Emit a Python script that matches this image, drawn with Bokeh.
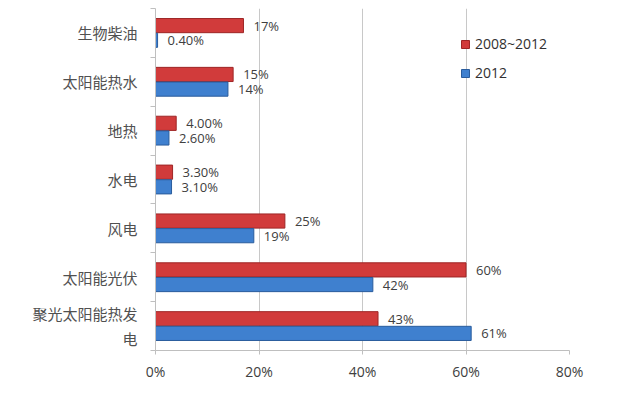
from bokeh.plotting import figure
from bokeh.models import ColumnDataSource, Range1d, FixedTicker, Legend, LegendItem
from bokeh.core.properties import value
from bokeh.embed import file_html
from bokeh.resources import INLINE

categories = ["生物柴油", "太阳能热水", "地热", "水电", "风电", "太阳能光伏", "聚光太阳能热发电"]
axis_labels = ["生物柴油", "太阳能热水", "地热", "水电", "风电", "太阳能光伏", "聚光太阳能热发\n电"]
growth_2008_2012 = [17, 15, 4.0, 3.3, 25, 60, 43]
growth_2012 = [0.4, 14, 2.6, 3.1, 19, 42, 61]
labels_2008_2012 = ["17%", "15%", "4.00%", "3.30%", "25%", "60%", "43%"]
labels_2012 = ["0.40%", "14%", "2.60%", "3.10%", "19%", "42%", "61%"]
x_ticks = [0, 20, 40, 60, 80]
x_tick_labels = ["0%", "20%", "40%", "60%", "80%"]

n = len(categories)
pos = list(range(n))
red_y = [p_ - 0.15 for p_ in pos]
blue_y = [p_ + 0.15 for p_ in pos]

src_red = ColumnDataSource(dict(y=red_y, x=growth_2008_2012, lab=labels_2008_2012))
src_blue = ColumnDataSource(dict(y=blue_y, x=growth_2012, lab=labels_2012))

p = figure(width=632, height=387, output_backend="svg", toolbar_location=None,
           x_range=Range1d(0, 80), y_range=Range1d(n - 0.5, -0.5),
           min_border_left=155, min_border_right=63, min_border_top=8, min_border_bottom=37)
p.outline_line_color = None
p.background_fill_color = "white"

red_r = p.hbar(y="y", right="x", left=0, height=0.29, source=src_red,
               fill_color="#D13B3B", line_color="#9E2626", line_width=1)
blue_r = p.hbar(y="y", right="x", left=0, height=0.29, source=src_blue,
                fill_color="#3F80CF", line_color="#2A5C9C", line_width=1)

p.text(x="x", y="y", text="lab", source=src_red, x_offset=10, text_baseline="middle",
       text_font=value("Open Sans"), text_font_size="13px", text_color="#404040")
p.text(x="x", y="y", text="lab", source=src_blue, x_offset=10, text_baseline="middle",
       text_font=value("Open Sans"), text_font_size="13px", text_color="#404040")

# axes
p.xaxis.ticker = FixedTicker(ticks=x_ticks)
p.xaxis.major_label_overrides = {t: l for t, l in zip(x_ticks, x_tick_labels)}
p.xaxis.major_label_text_font = "Open Sans"
p.xaxis.major_label_text_font_size = "14px"
p.xaxis.major_label_text_color = "#404040"
p.xaxis.axis_line_color = "#BFBFBF"
p.xaxis.major_tick_line_color = "#BFBFBF"
p.xaxis.major_tick_out = 4
p.xaxis.major_tick_in = 0
p.xaxis.minor_tick_line_color = None
p.xaxis.major_label_standoff = 7

p.yaxis.ticker = FixedTicker(ticks=pos, minor_ticks=[i - 0.5 for i in range(n + 1)])
p.yaxis.major_label_overrides = {i: l for i, l in enumerate(axis_labels)}
p.yaxis.major_label_text_font = "Noto Sans CJK SC"
p.yaxis.major_label_text_font_size = "15px"
p.yaxis.major_label_text_color = "#505050"
p.yaxis.axis_line_color = "#BFBFBF"
p.yaxis.major_tick_line_color = None
p.yaxis.major_tick_out = 0
p.yaxis.major_tick_in = 0
p.yaxis.minor_tick_line_color = "#BFBFBF"
p.yaxis.minor_tick_out = 5
p.yaxis.minor_tick_in = 0
p.yaxis.major_label_standoff = 13

p.xgrid.grid_line_color = "#C8C8C8"
p.xgrid.ticker = FixedTicker(ticks=x_ticks[1:])
p.ygrid.grid_line_color = None

legend = Legend(items=[LegendItem(label="2008~2012", renderers=[red_r]),
                       LegendItem(label="2012", renderers=[blue_r])],
                location=(305, 268))
legend.border_line_color = None
legend.background_fill_alpha = 0
legend.padding = 0
legend.margin = 0
legend.glyph_width = 10
legend.glyph_height = 10
legend.label_height = 14
legend.spacing = 10
legend.label_standoff = 5
legend.label_text_font = "Open Sans"
legend.label_text_font_size = "14px"
legend.label_text_color = "#303030"
p.add_layout(legend, "center")

open("out.html", "w").write(file_html(p, INLINE))
